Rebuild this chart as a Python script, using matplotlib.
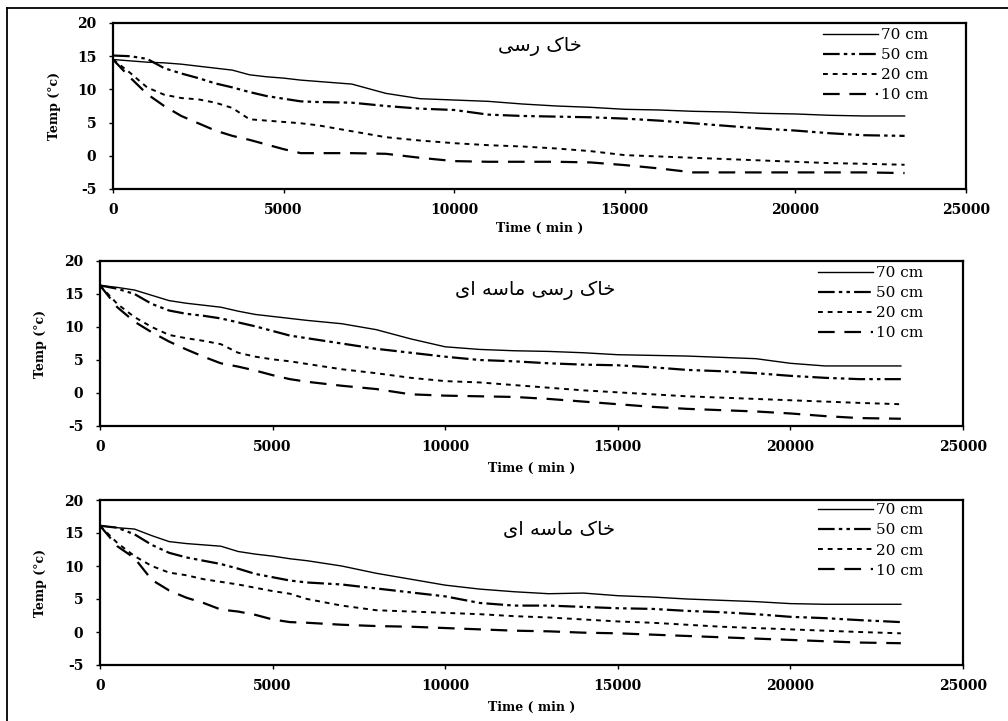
import matplotlib
matplotlib.use('Agg')
import matplotlib.pyplot as plt
from matplotlib.lines import Line2D

# time axis shared by every curve (minutes)
minutes = [0, 500, 1000, 1500, 2000, 2500, 3000, 3500, 4000, 4500, 5000, 5500, 6000,
           7000, 8000, 9000, 10000, 11000, 12000, 13000, 14000, 15000, 16000, 17000,
           18000, 19000, 20000, 21000, 22000, 23200]
depth_labels = ['70 cm', '50 cm', '20 cm', '10 cm']

# clay soil
clay_70 = [14.5, 14.3, 14.1, 14.0, 13.8, 13.5, 13.2, 12.9, 12.2, 11.9, 11.7, 11.4, 11.2,
           10.8, 9.4, 8.6, 8.4, 8.2, 7.8, 7.5, 7.3, 7.0, 6.9, 6.7, 6.6, 6.4, 6.3, 6.1, 6.0, 6.0]
clay_50 = [15.1, 15.0, 14.6, 13.2, 12.4, 11.7, 10.9, 10.3, 9.6, 9.0, 8.6, 8.2, 8.1,
           8.0, 7.5, 7.1, 6.9, 6.2, 6.0, 5.9, 5.8, 5.6, 5.3, 4.9, 4.5, 4.1, 3.8, 3.4, 3.1, 3.0]
clay_20 = [14.5, 12.5, 10.3, 9.2, 8.7, 8.5, 8.0, 7.2, 5.5, 5.3, 5.1, 4.9, 4.6,
           3.7, 2.8, 2.3, 1.9, 1.6, 1.4, 1.1, 0.7, 0.1, -0.1, -0.3, -0.5, -0.7, -0.9, -1.1, -1.2, -1.35]
clay_10 = [14.5, 11.8, 9.3, 7.5, 6.0, 4.9, 3.8, 3.0, 2.4, 1.7, 1.0, 0.4, 0.4,
           0.4, 0.3, -0.3, -0.8, -0.9, -0.9, -0.9, -1.0, -1.4, -1.9, -2.5, -2.5, -2.5, -2.5, -2.5, -2.5, -2.6]

# sandy clay soil
sandy_clay_70 = [16.3, 16.0, 15.6, 14.8, 14.0, 13.6, 13.3, 13.0, 12.4, 11.9, 11.6, 11.3, 11.0,
                 10.5, 9.6, 8.2, 7.0, 6.6, 6.4, 6.3, 6.1, 5.8, 5.7, 5.6, 5.4, 5.2, 4.5, 4.1, 4.1, 4.1]
sandy_clay_50 = [16.3, 15.8, 15.0, 13.5, 12.5, 12.0, 11.7, 11.3, 10.7, 10.1, 9.4, 8.7, 8.3,
                 7.5, 6.7, 6.1, 5.5, 5.0, 4.8, 4.5, 4.3, 4.2, 3.9, 3.5, 3.3, 3.0, 2.6, 2.3, 2.1, 2.1]
sandy_clay_20 = [16.3, 13.5, 11.5, 10.0, 8.8, 8.3, 7.9, 7.4, 6.1, 5.5, 5.1, 4.8, 4.4,
                 3.6, 3.0, 2.3, 1.8, 1.6, 1.2, 0.8, 0.4, 0.1, -0.2, -0.5, -0.7, -0.9, -1.1, -1.3, -1.5, -1.7]
sandy_clay_10 = [16.3, 13.0, 10.8, 9.2, 7.8, 6.6, 5.5, 4.5, 4.0, 3.4, 2.7, 2.1, 1.7,
                 1.1, 0.6, -0.2, -0.4, -0.5, -0.6, -0.9, -1.3, -1.7, -2.1, -2.4, -2.6, -2.8, -3.1, -3.5, -3.8, -3.9]

# sandy soil
sandy_70 = [16.1, 15.8, 15.6, 14.6, 13.7, 13.4, 13.2, 13.0, 12.2, 11.8, 11.5, 11.1, 10.8,
            10.0, 8.9, 8.0, 7.1, 6.5, 6.1, 5.8, 5.9, 5.5, 5.3, 5.0, 4.8, 4.6, 4.3, 4.2, 4.2, 4.2]
sandy_50 = [16.1, 15.8, 14.8, 13.2, 12.0, 11.3, 10.8, 10.3, 9.6, 8.8, 8.3, 7.8, 7.5,
            7.2, 6.6, 6.0, 5.4, 4.4, 4.0, 4.0, 3.8, 3.6, 3.5, 3.2, 3.0, 2.7, 2.3, 2.1, 1.8, 1.5]
sandy_20 = [16.1, 13.5, 11.5, 10.0, 9.0, 8.6, 8.0, 7.6, 7.2, 6.7, 6.2, 5.8, 5.0,
            4.0, 3.3, 3.1, 2.9, 2.7, 2.4, 2.2, 1.9, 1.6, 1.4, 1.1, 0.8, 0.6, 0.4, 0.2, 0.0, -0.2]
sandy_10 = [16.1, 13.0, 11.2, 7.9, 6.3, 5.2, 4.4, 3.4, 3.1, 2.6, 1.9, 1.5, 1.4,
            1.1, 0.9, 0.8, 0.6, 0.4, 0.2, 0.1, -0.1, -0.2, -0.4, -0.6, -0.8, -1.0, -1.2, -1.4, -1.6, -1.7]

soil_titles = ['خاک رسی', 'خاک رسی ماسه ای', 'خاک ماسه ای']
panels = [
    [clay_70, clay_50, clay_20, clay_10],
    [sandy_clay_70, sandy_clay_50, sandy_clay_20, sandy_clay_10],
    [sandy_70, sandy_50, sandy_20, sandy_10],
]

# matplotlib does no arabic shaping, so pick the presentation forms by hand
FORMS = {
    'خ': ('\ufea5', '\ufea6', '\ufea7', '\ufea8'),
    'ا': ('\ufe8d', '\ufe8e', None, None),
    'ک': ('\ufb8e', '\ufb8f', '\ufb90', '\ufb91'),
    'ر': ('\ufead', '\ufeae', None, None),
    'س': ('\ufeb1', '\ufeb2', '\ufeb3', '\ufeb4'),
    'ی': ('\ufbfc', '\ufbfd', '\ufbfe', '\ufbff'),
    'م': ('\ufee1', '\ufee2', '\ufee3', '\ufee4'),
    'ه': ('\ufee9', '\ufeea', '\ufeeb', '\ufeec'),
}


def shape_fa(text):
    out = []
    for i, ch in enumerate(text):
        if ch not in FORMS:
            out.append(ch)
            continue
        prev = text[i - 1] if i > 0 else ''
        nxt = text[i + 1] if i + 1 < len(text) else ''
        iso, fin, ini, med = FORMS[ch]
        join_prev = prev in FORMS and FORMS[prev][2] is not None
        join_next = nxt in FORMS and ini is not None
        if join_prev and join_next:
            out.append(med)
        elif join_prev:
            out.append(fin)
        elif join_next:
            out.append(ini)
        else:
            out.append(iso)
    return ''.join(reversed(out))


plt.rcParams['lines.scale_dashes'] = False
plt.rcParams['axes.unicode_minus'] = False

W, H = 1008, 721
fig = plt.figure(figsize=(W / 100, H / 100), dpi=100)

# axes boxes in pixels: left, top, right, bottom
boxes = [(113, 23, 966, 189), (100, 261, 963, 426), (100, 500, 963, 665)]
title_x = [0.5, 0.504, 0.532]
title_y = [0.86, 0.82, 0.82]
legend_top = [0.97, 0.97, 0.98]

styles = [
    dict(ls='-', lw=1.0),
    dict(ls=(0, (12, 3, 2.5, 3, 2.5, 3)), lw=1.6),
    dict(ls=(0, (3.5, 3.5)), lw=1.4),
    dict(ls=(0, (12, 7)), lw=1.6),
]

for p, (l, t, r, b) in enumerate(boxes):
    ax = fig.add_axes([l / W, 1 - b / H, (r - l) / W, (b - t) / H])
    for series, lab, st in zip(panels[p], depth_labels, styles):
        ax.plot(minutes, series, color='black', label=lab, **st)

    ax.set_xlim(0, 25000)
    ax.set_ylim(-5, 20)
    ax.set_xticks(range(0, 25001, 5000))
    ax.set_yticks(range(-5, 21, 5))
    for s in ax.spines.values():
        s.set_linewidth(1.6)
    ax.tick_params(direction='out', length=3, width=1)
    ax.tick_params(axis='y', pad=9)
    ax.tick_params(axis='x', pad=7)
    for lbl in ax.get_xticklabels() + ax.get_yticklabels():
        lbl.set_family('DejaVu Serif')
        lbl.set_fontweight('bold')
        lbl.set_fontsize(10)

    ax.set_xlabel('Time ( min )', family='DejaVu Serif', fontweight='bold', fontsize=9)
    ax.set_ylabel('Temp (°c)', family='DejaVu Serif', fontweight='bold', fontsize=9)
    ax.xaxis.set_label_coords(0.5, -0.2 if p == 0 else -0.215)
    ax.yaxis.set_label_coords(-0.061, 0.5)

    ax.text(title_x[p], title_y[p], shape_fa(soil_titles[p]), transform=ax.transAxes,
            ha='center', va='center', fontsize=14, family=['DejaVu Sans'])

    ax.legend(loc='upper left', bbox_to_anchor=(0.832, legend_top[p]), frameon=False,
              prop={'family': 'DejaVu Serif', 'size': 11}, handlelength=3.6,
              handletextpad=0.2, labelspacing=0.4, borderpad=0, borderaxespad=0)

# page frame (top and left edges are what shows in the crop)
fig.add_artist(Line2D([7 / W, 7 / W], [0, 1 - 8 / H], color='black', lw=1.3))
fig.add_artist(Line2D([7 / W, 1], [1 - 8 / H, 1 - 8 / H], color='black', lw=1.3))

fig.savefig('out.png', dpi=100)
